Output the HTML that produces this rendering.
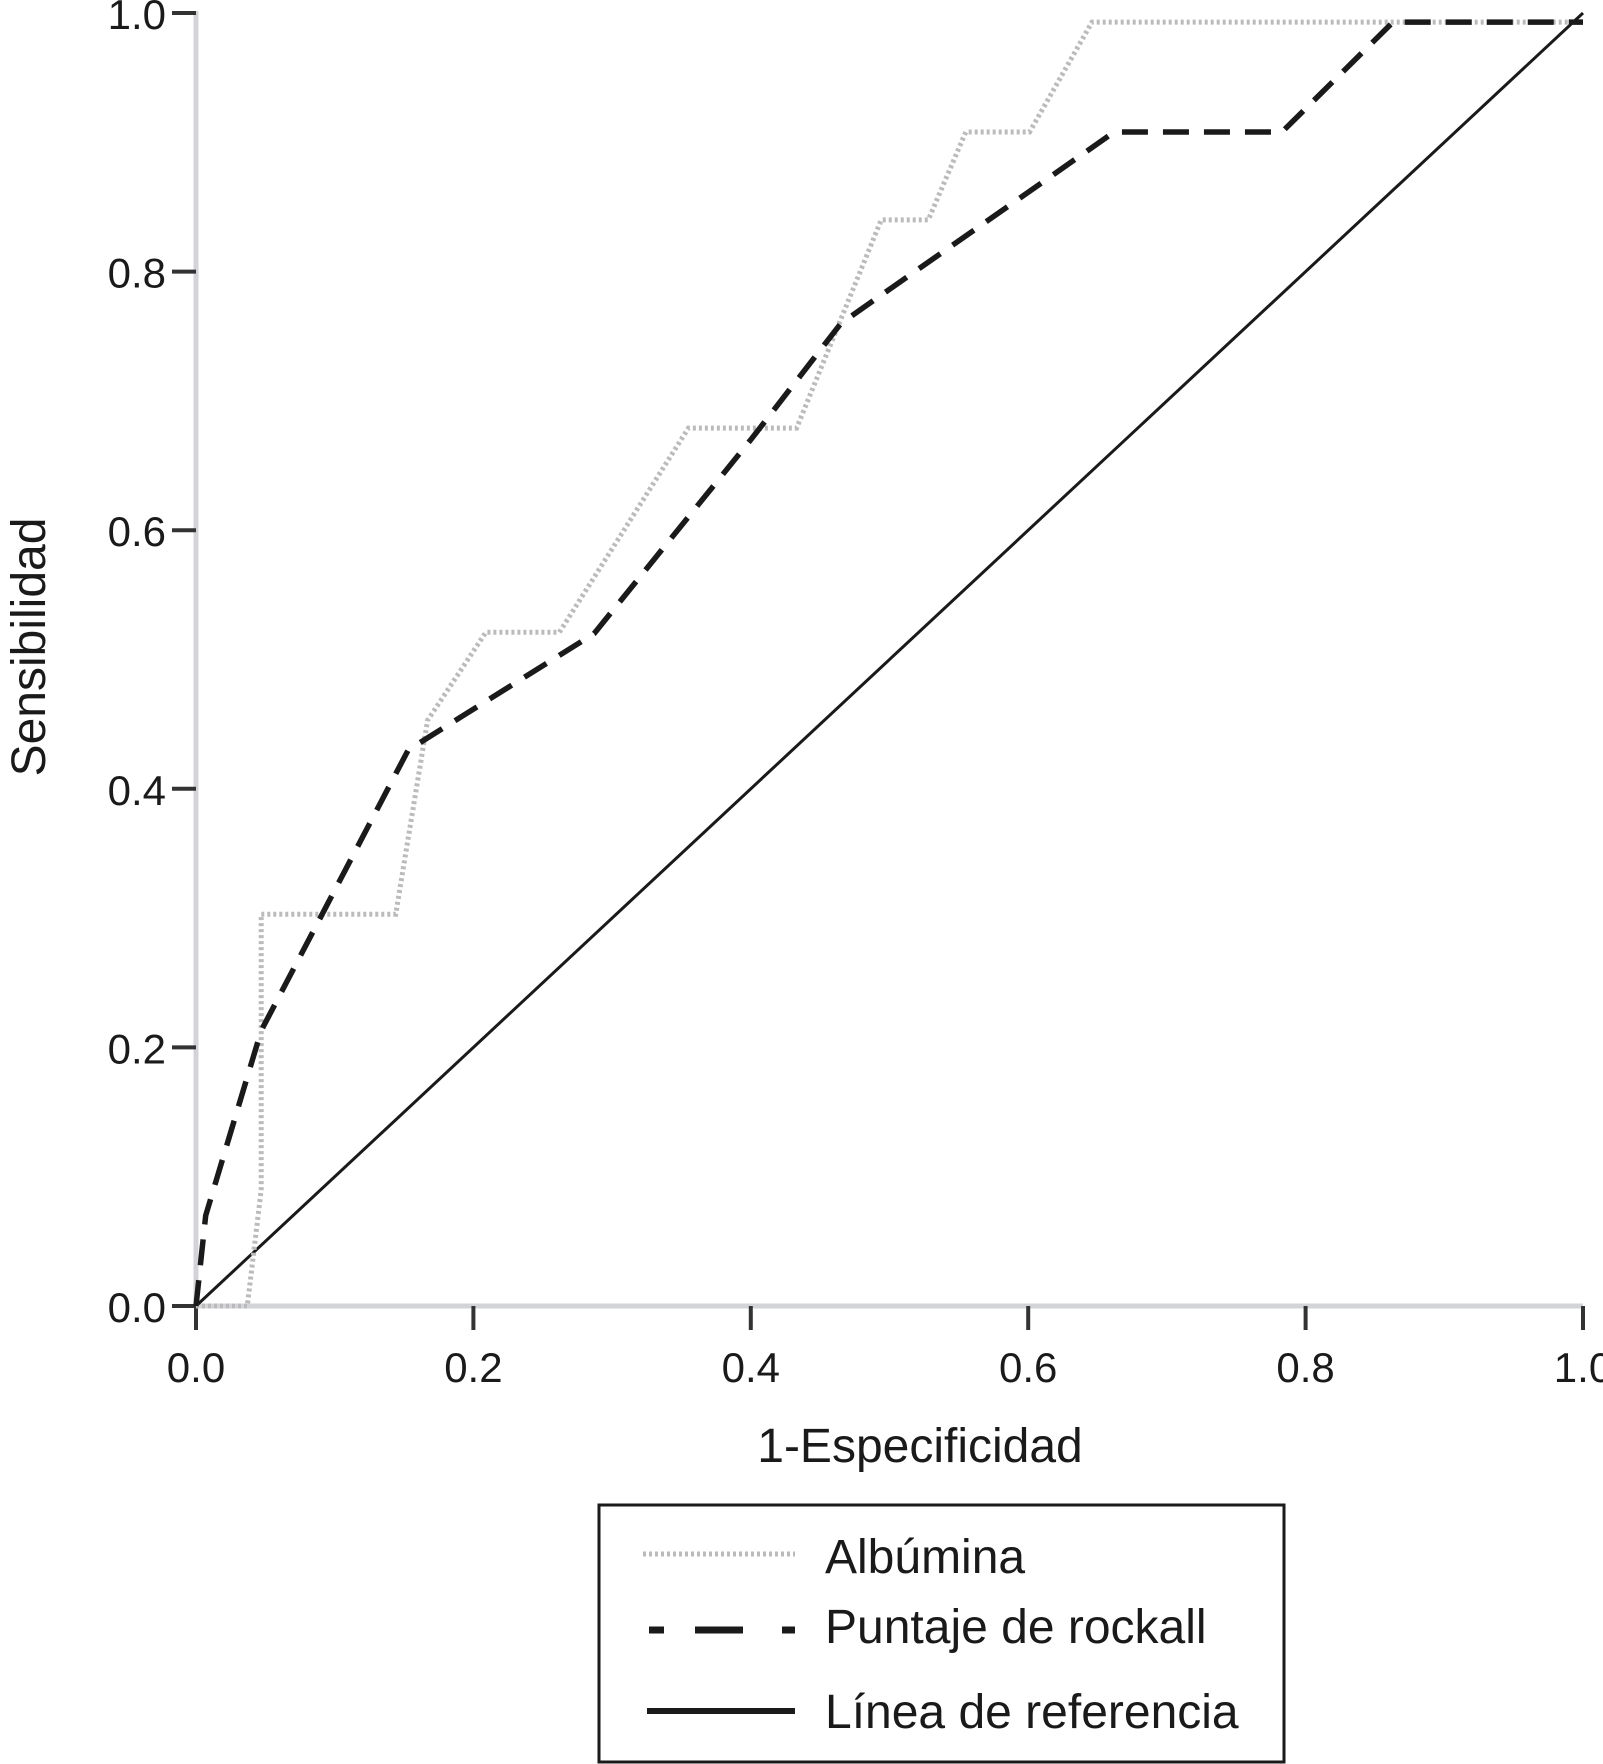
<!DOCTYPE html>
<html><head><meta charset="utf-8"><style>
html,body{margin:0;padding:0;background:#fff;}
svg{display:block;font-family:"Liberation Sans",Arial,sans-serif;}
</style></head><body>
<svg id="chart" width="1603" height="1764" viewBox="0 0 1603 1764">
<g id="axes"></g>
<g id="series"></g>
<text x="920" y="1462" font-size="48" text-anchor="middle" fill="#1a1a1a">1-Especificidad</text>
<text transform="translate(45,647) rotate(-90)" font-size="48" text-anchor="middle" fill="#1a1a1a">Sensibilidad</text>
<g>
<rect x="599" y="1505" width="685" height="257" fill="#fff" stroke="#1a1a1a" stroke-width="3"/>
<g>
<line x1="643" y1="1554" x2="795" y2="1554" stroke="#bbb" stroke-width="5" stroke-dasharray="3,3"/>
<text x="825" y="1573" font-size="48" fill="#1a1a1a">Albúmina</text></g>
<g>
<line x1="649" y1="1630" x2="664" y2="1630" stroke="#1a1a1a" stroke-width="7"/>
<line x1="695" y1="1630" x2="743" y2="1630" stroke="#1a1a1a" stroke-width="7"/>
<line x1="782" y1="1630" x2="795" y2="1630" stroke="#1a1a1a" stroke-width="7"/>
<text x="825" y="1643" font-size="48" fill="#1a1a1a">Puntaje de rockall</text></g>
<g>
<line x1="647" y1="1711" x2="795" y2="1711" stroke="#1a1a1a" stroke-width="6"/>
<text x="825" y="1728" font-size="48" fill="#1a1a1a">Línea de referencia</text></g>
</g>
</svg>
<script>
const xTicks = [0, 0.2, 0.4, 0.6, 0.8, 1.0];
const yTicks = [0, 0.2, 0.4, 0.6, 0.8, 1.0];
const tickLabels = ["0.0", "0.2", "0.4", "0.6", "0.8", "1.0"];
const albuminaX = [0, 0.037, 0.047, 0.047, 0.144, 0.167, 0.209, 0.262, 0.355, 0.433, 0.494, 0.528, 0.555, 0.601, 0.646, 1];
const albuminaY = [0, 0, 0.09, 0.303, 0.303, 0.453, 0.521, 0.521, 0.679, 0.679, 0.84, 0.84, 0.908, 0.908, 0.993, 0.993];
const rockallX = [0, 0.007, 0.047, 0.153, 0.287, 0.40, 0.465, 0.662, 0.783, 0.863, 1];
const rockallY = [0, 0.07, 0.213, 0.43, 0.52, 0.67, 0.76, 0.908, 0.908, 0.993, 0.993];
const refX = [0, 1];
const refY = [0, 1];

const X0 = 196, X1 = 1583, Y0 = 1306, Y1 = 13;
const sx = v => X0 + v * (X1 - X0);
const sy = v => Y0 - v * (Y0 - Y1);
const NS = "http://www.w3.org/2000/svg";
const axes = document.getElementById('axes');
const series = document.getElementById('series');
function mk(tag, attrs, parent){const e=document.createElementNS(NS,tag);for(const k in attrs)e.setAttribute(k,attrs[k]);parent.appendChild(e);return e;}

const ya = mk('line',{x1:X0,y1:Y1-2,x2:X0,y2:Y0,stroke:'#d2d4d8','stroke-width':5},axes);


const xa = mk('line',{x1:X0,y1:Y0,x2:X1,y2:Y0,stroke:'#d2d4d8','stroke-width':5},axes);



yTicks.forEach((v,i)=>{
  const t = mk('line',{x1:X0-24,y1:sy(v),x2:X0,y2:sy(v),stroke:'#333','stroke-width':4},axes);
  
  
  const l = mk('text',{x:X0-30,y:sy(v)+16,'font-size':42,'text-anchor':'end',fill:'#1a1a1a'},axes);
  l.textContent = tickLabels[i];
  
  
});
xTicks.forEach((v,i)=>{
  const t = mk('line',{x1:sx(v),y1:Y0,x2:sx(v),y2:Y0+24,stroke:'#333','stroke-width':4},axes);
  
  
  const l = mk('text',{x:sx(v),y:Y0+76,'font-size':42,'text-anchor':'middle',fill:'#1a1a1a'},axes);
  l.textContent = tickLabels[i];
  
  
});

function pts(xs,ys){return xs.map((x,i)=>sx(x).toFixed(1)+','+sy(ys[i]).toFixed(1)).join(' ');}
const ref = mk('polyline',{points:pts(refX,refY),fill:'none',stroke:'#1a1a1a','stroke-width':3},series);


const alb = mk('polyline',{points:pts(albuminaX,albuminaY),fill:'none',stroke:'#bbb','stroke-width':5,'stroke-dasharray':'3,3'},series);


const roc = mk('polyline',{points:pts(rockallX,rockallY),fill:'none',stroke:'#1a1a1a','stroke-width':5.5,'stroke-dasharray':'26,15','stroke-linejoin':'round'},series);


</script>
</body></html>
